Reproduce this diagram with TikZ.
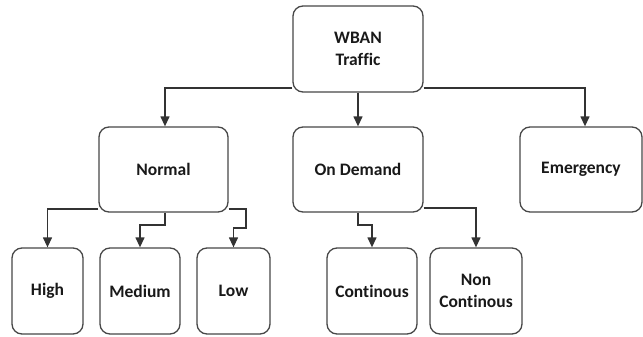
\documentclass[tikz,border=0pt]{standalone}
\usepackage{fontspec}
\setmainfont[Ligatures=NoCommon]{Carlito}
\usetikzlibrary{arrows.meta}
\begin{document}
\begin{tikzpicture}[x=1pt,y=-1pt,
  box/.style={draw=black!72,line width=1.3pt,rounded corners=10pt,fill=white,
    inner sep=0pt,align=center,text=black!90,
    font=\fontsize{17.5}{22}\selectfont\bfseries},
  link/.style={draw=black!80,line width=1.3pt,-{Triangle[width=9pt,length=10pt]}}]
\useasboundingbox (0,0) rectangle (643,337);
% top level
\node[box,minimum width=130pt,minimum height=86pt] (wban) at (358,49) {WBAN\\Traffic};
% second level
\node[box,minimum width=129pt,minimum height=85pt] (normal) at (163.5,169.5) {Normal};
\node[box,minimum width=130pt,minimum height=85pt] (ondemand) at (358,169.5) {On Demand};
\node[box,minimum width=122pt,minimum height=85pt] (emergency) at (581,169.5) {Emergency};
% third level
\node[box,minimum width=71pt,minimum height=86pt] (high) at (47.5,291) {High};
\node[box,minimum width=80pt,minimum height=86pt] (medium) at (140,291) {Medium};
\node[box,minimum width=73pt,minimum height=86pt] (low) at (233.5,291) {Low};
\node[box,minimum width=90pt,minimum height=86pt] (contin) at (372,291) {Continous};
\node[box,minimum width=92pt,minimum height=86pt] (noncontin) at (476,291) {Non\\Continous};
% connectors from the root
\draw[link] (wban.west |- 0,88) -| (normal.north -| 165,0);
\draw[link] (wban.south) -- (ondemand.north);
\draw[link] (wban.east |- 0,88) -| (emergency.north -| 585,0);
% connectors below Normal
\draw[link] (normal.west |- 0,209) -| (high.north);
\draw[link] (normal.south -| 165,0) -- (165,225) -| (medium.north);
\draw[link] (normal.east |- 0,209) -- (246,209) -- (246,228) -| (low.north);
% connectors below On Demand
\draw[link] (ondemand.south) -- (358,225) -| (contin.north);
\draw[link] (ondemand.east |- 0,208) -| (noncontin.north);
\end{tikzpicture}
\end{document}
